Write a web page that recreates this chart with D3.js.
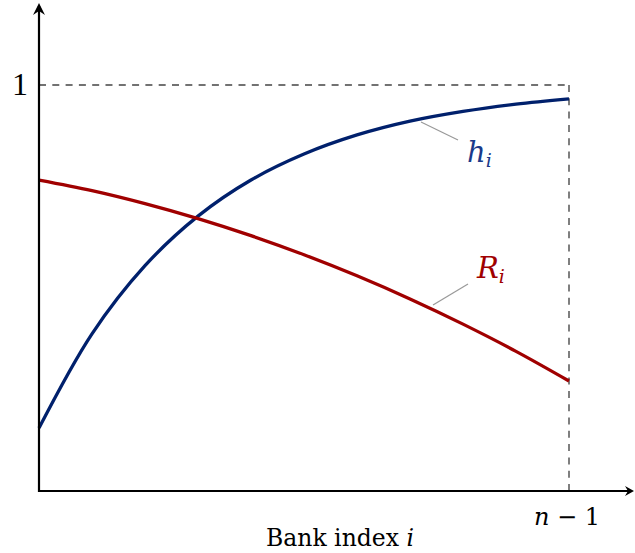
<!DOCTYPE html>
<html>
<head>
  <meta charset="UTF-8">
  <title>Bank index curves</title>
  <script src="https://d3js.org/d3.v7.min.js"></script>
  <style>
    body { margin: 0; background: #fff; }
    text { font-family: "DejaVu Serif", "Liberation Serif", serif; }
    text.ytick { font-family: "Liberation Serif", serif; }
  </style>
</head>
<body>
  <div id="chart"></div>
  <script>
    // bank index as a fraction of n-1
    var xValues = [0, 0.1, 0.2, 0.3, 0.4, 0.5, 0.6, 0.7, 0.8, 0.9, 1.0];
    var hValues = [0.155, 0.387, 0.555, 0.677, 0.766, 0.830, 0.877, 0.911, 0.935, 0.953, 0.966];
    var rValues = [0.766, 0.740, 0.708, 0.671, 0.629, 0.582, 0.530, 0.473, 0.411, 0.344, 0.271];
    var yTickValues = [1];
    var xTickValues = [1];

    var width = 635, height = 553;
    var svg = d3.select("#chart").append("svg")
      .attr("width", width)
      .attr("height", height);

    var x = d3.scaleLinear().domain([0, 1]).range([39, 569]);
    var y = d3.scaleLinear().domain([0, 1]).range([491, 85]);

    // dashed guides at 1 and n-1
    svg.append("line")
      .attr("x1", x(0)).attr("x2", x(1))
      .attr("y1", y(1)).attr("y2", y(1))
      .attr("stroke", "#444").attr("stroke-width", 1.3)
      .attr("stroke-dasharray", "7,6.3");
    svg.append("line")
      .attr("x1", x(1)).attr("x2", x(1))
      .attr("y1", y(1)).attr("y2", y(0))
      .attr("stroke", "#555").attr("stroke-width", 1.5)
      .attr("stroke-dasharray", "7,6.3");

    // curves
    var line = d3.line()
      .x(function (d) { return x(d[0]); })
      .y(function (d) { return y(d[1]); })
      .curve(d3.curveCatmullRom);

    svg.append("path")
      .datum(d3.zip(xValues, hValues))
      .attr("d", line)
      .attr("fill", "none")
      .attr("stroke", "#00206c")
      .attr("stroke-width", 3.3);

    svg.append("path")
      .datum(d3.zip(xValues, rValues))
      .attr("d", line)
      .attr("fill", "none")
      .attr("stroke", "#a00000")
      .attr("stroke-width", 3.3);

    // axes
    svg.append("line")
      .attr("x1", x(0) - 1).attr("x2", 630)
      .attr("y1", y(0)).attr("y2", y(0))
      .attr("stroke", "#000").attr("stroke-width", 2.2);
    svg.append("line")
      .attr("x1", x(0)).attr("x2", x(0))
      .attr("y1", y(0) + 1).attr("y2", 6)
      .attr("stroke", "#000").attr("stroke-width", 2.2);

    // arrow heads
    svg.append("path")
      .attr("d", "M" + 634 + "," + y(0) + " l-9,-5 l3,5 l-3,5 z")
      .attr("fill", "#000");
    svg.append("path")
      .attr("d", "M" + x(0) + ",3 l-6,12 l6,-4 l6,4 z")
      .attr("fill", "#000");

    // ticks
    svg.selectAll(".ytick")
      .data(yTickValues)
      .enter().append("text")
      .attr("class", "ytick")
      .attr("x", 28)
      .attr("y", function (d) { return y(d) + 10; })
      .attr("text-anchor", "end")
      .attr("font-size", 32)
      .text(function (d) { return d; });

    svg.selectAll(".xtick")
      .data(xTickValues)
      .enter().append("text")
      .attr("class", "xtick")
      .attr("x", function (d) { return x(d) - 2; })
      .attr("y", 525)
      .attr("text-anchor", "middle")
      .attr("font-size", 24)
      .each(function () {
        var t = d3.select(this);
        t.append("tspan").attr("font-style", "italic").text("n");
        t.append("tspan").text(" \u2212 1");
      });

    // x axis title
    var title = svg.append("text")
      .attr("x", 340).attr("y", 546)
      .attr("text-anchor", "middle")
      .attr("font-size", 23.5);
    title.append("tspan").text("Bank index ");
    title.append("tspan").attr("font-style", "italic").text("i");

    // curve labels with pins
    svg.append("line")
      .attr("x1", 421).attr("y1", 122).attr("x2", 458).attr("y2", 140)
      .attr("stroke", "#999").attr("stroke-width", 1.2);
    var hl = svg.append("text")
      .attr("x", 467).attr("y", 162)
      .attr("fill", "#1a3a8a")
      .attr("font-size", 29)
      .attr("font-style", "italic");
    hl.append("tspan").text("h");
    hl.append("tspan").attr("font-size", 19).attr("dy", 5).text("i");

    svg.append("line")
      .attr("x1", 433).attr("y1", 305).attr("x2", 468).attr("y2", 284)
      .attr("stroke", "#999").attr("stroke-width", 1.2);
    var rl = svg.append("text")
      .attr("x", 477).attr("y", 278)
      .attr("fill", "#a00000")
      .attr("font-size", 29)
      .attr("font-style", "italic");
    rl.append("tspan").text("R");
    rl.append("tspan").attr("font-size", 19).attr("dy", 5).text("i");
  </script>
</body>
</html>
